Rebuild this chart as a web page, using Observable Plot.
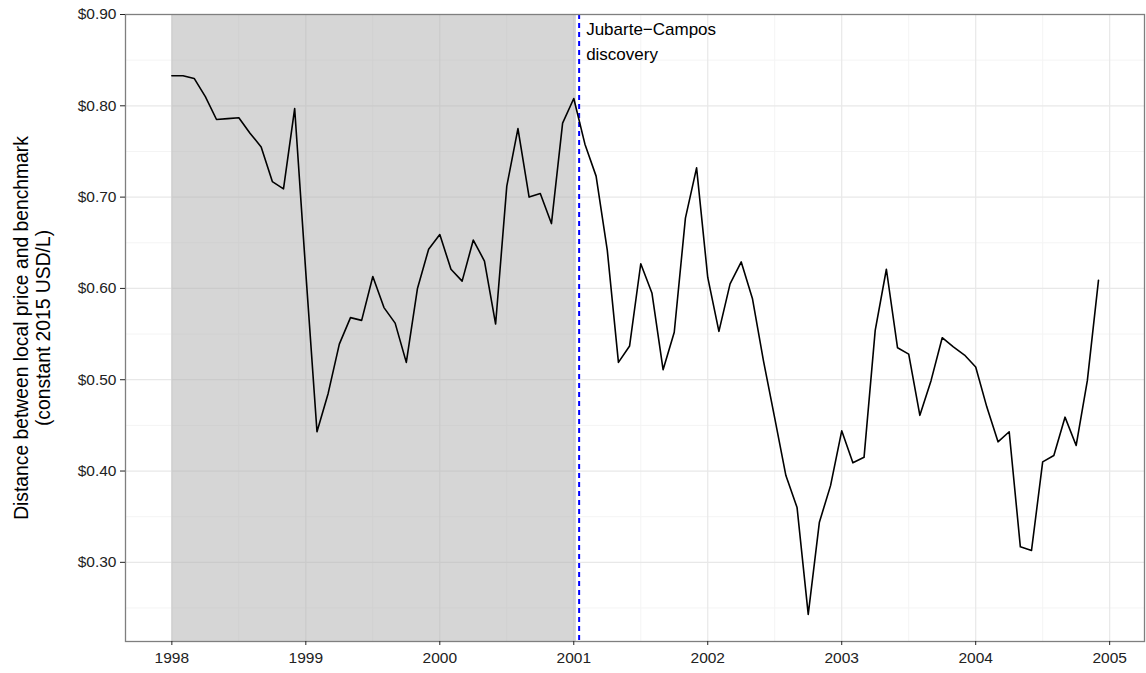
<!DOCTYPE html>
<html><head><meta charset="utf-8">
<script src="https://cdn.jsdelivr.net/npm/d3@7"></script>
<script src="https://cdn.jsdelivr.net/npm/@observablehq/plot@0.6"></script>
<style>body{margin:0;background:#fff;}</style>
</head><body><div id="chart"></div>
<script>
// Monthly series, Jan 1998 .. Dec 2004
const startYear = 1998;
const values = [
  0.833, 0.833, 0.830, 0.810, 0.785, 0.786, 0.787, 0.770, 0.755, 0.717, 0.709, 0.797,
  0.617, 0.443, 0.485, 0.539, 0.568, 0.565, 0.613, 0.579, 0.562, 0.519, 0.600, 0.643,
  0.659, 0.621, 0.608, 0.653, 0.630, 0.561, 0.712, 0.775, 0.700, 0.704, 0.671, 0.781,
  0.808, 0.758, 0.723, 0.642, 0.519, 0.537, 0.627, 0.595, 0.511, 0.552, 0.677, 0.732,
  0.612, 0.553, 0.605, 0.629, 0.589, 0.520, 0.458, 0.395, 0.360, 0.243, 0.344, 0.384,
  0.444, 0.409, 0.415, 0.554, 0.621, 0.535, 0.528, 0.461, 0.499, 0.546, 0.536, 0.527,
  0.514, 0.470, 0.432, 0.443, 0.317, 0.313, 0.410, 0.417, 0.459, 0.428, 0.499, 0.609
];
const yearTicks = [1998, 1999, 2000, 2001, 2002, 2003, 2004, 2005];
const yearMinor = [1998.5, 1999.5, 2000.5, 2001.5, 2002.5, 2003.5, 2004.5];
const yTicks = [0.3, 0.4, 0.5, 0.6, 0.7, 0.8, 0.9];
const yMinor = [0.25, 0.35, 0.45, 0.55, 0.65, 0.75, 0.85];
const shade = [{start: 1998, end: 2001.02}];
const discovery = [2001.04];
const annotation = "Jubarte\u2212Campos\ndiscovery";
const yTitle = "Distance between local price and benchmark\n(constant 2015 USD/L)";

const data = values.map((v, i) => ({t: startYear + i / 12, v}));
const font = "'Liberation Sans', Arial, sans-serif";

const chart = Plot.plot({
  width: 1146,
  height: 673,
  marginLeft: 125,
  marginRight: 2,
  marginTop: 14,
  marginBottom: 32,
  style: {fontFamily: font, background: "#fff"},
  x: {domain: [1997.654, 2005.26]},
  y: {domain: [0.2133, 0.90]},
  marks: [
    Plot.gridX(yearMinor, {stroke: "#f4f4f4", strokeOpacity: 1, strokeWidth: 1}),
    Plot.gridY(yMinor, {stroke: "#f4f4f4", strokeOpacity: 1, strokeWidth: 1}),
    Plot.gridX(yearTicks, {stroke: "#e8e8e8", strokeOpacity: 1, strokeWidth: 1.2}),
    Plot.gridY(yTicks, {stroke: "#e8e8e8", strokeOpacity: 1, strokeWidth: 1.2}),
    Plot.rect(shade, {x1: "start", x2: "end", fill: "#adadad", fillOpacity: 0.5, inset: 0}),
    Plot.ruleX(discovery, {x: d => d, stroke: "#0000ff", strokeWidth: 2, strokeDasharray: "5,4"}),
    Plot.line(data, {x: "t", y: "v", stroke: "#000", strokeWidth: 1.6}),
    Plot.text(discovery, {x: d => d, frameAnchor: "top", dx: 7, dy: 2, textAnchor: "start", lineAnchor: "top",
      text: () => annotation, fontSize: 17, lineHeight: 1.5, fill: "#000"}),
    Plot.frame({stroke: "#7f7f7f", strokeWidth: 1.3}),
    Plot.axisX(yearTicks, {tickFormat: d => String(d), tickSize: 4, tickPadding: 6, fontSize: 15.5, color: "#222", label: null}),
    Plot.axisY(yTicks, {tickFormat: d => "$" + d.toFixed(2), tickSize: 5, tickPadding: 4, fontSize: 15.5, color: "#222", label: null}),
    Plot.text([0], {frameAnchor: "left", dx: -94, rotate: -90, textAnchor: "middle", lineAnchor: "middle",
      text: () => yTitle, fontSize: 19.3, lineHeight: 1.15, fill: "#000"})
  ]
});
document.getElementById("chart").appendChild(chart);
</script>
</body></html>
